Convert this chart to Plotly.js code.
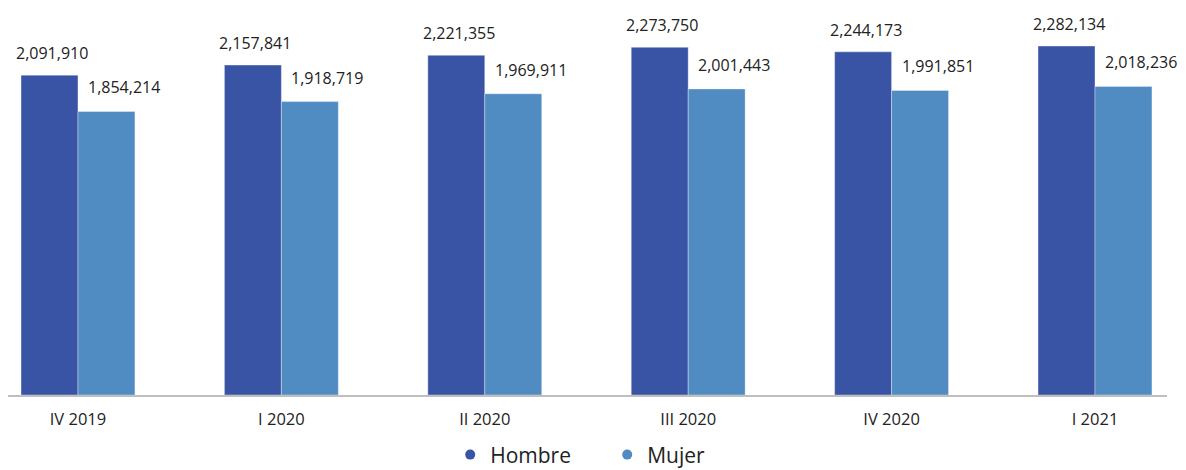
<!DOCTYPE html>
<html>
<head>
<meta charset="utf-8">
<script src="https://cdn.plot.ly/plotly-3.0.1.min.js"></script>
<style>
  html, body { margin: 0; padding: 0; background: #ffffff; }
  #chart { width: 1186px; height: 470px; }
</style>
</head>
<body>
<div id="chart"></div>
<script>
const categories = ["IV 2019", "I 2020", "II 2020", "III 2020", "IV 2020", "I 2021"];
const hombre = [2091910, 2157841, 2221355, 2273750, 2244173, 2282134];
const mujer = [1854214, 1918719, 1969911, 2001443, 1991851, 2018236];
const seriesNames = ["Hombre", "Mujer"];
const colors = ["#3A54A5", "#508BC2"];

const FONT = "Open Sans, Liberation Sans, sans-serif";
const fmt = v => v.toLocaleString("en-US");

const barTrace = (name, vals, color) => ({
  type: "bar",
  name: name,
  x: categories,
  y: vals,
  marker: { color: color, line: { color: "rgba(255,255,255,0.35)", width: 1 } },
  showlegend: false,
  hoverinfo: "x+y+name"
});

const legendTrace = (name, color) => ({
  type: "scatter",
  mode: "markers",
  name: name,
  x: [null],
  y: [null],
  marker: { color: color, size: 10, symbol: "circle" },
  showlegend: true
});

const annotations = [];
categories.forEach((c, i) => {
  annotations.push({
    x: c, y: hombre[i], xref: "x", yref: "y",
    text: fmt(hombre[i]), showarrow: false,
    xanchor: "center", yanchor: "bottom",
    xshift: -26, yshift: 9,
    font: { family: FONT, size: 16, color: "#222222" }
  });
  annotations.push({
    x: c, y: mujer[i], xref: "x", yref: "y",
    text: fmt(mujer[i]), showarrow: false,
    xanchor: "center", yanchor: "bottom",
    xshift: 46, yshift: 11,
    font: { family: FONT, size: 16, color: "#222222" }
  });
});

const data = [
  barTrace(seriesNames[0], hombre, colors[0]),
  barTrace(seriesNames[1], mujer, colors[1]),
  legendTrace(seriesNames[0], colors[0]),
  legendTrace(seriesNames[1], colors[1])
];

const layout = {
  width: 1186,
  height: 470,
  margin: { l: 8, r: 19, t: 20, b: 75, autoexpand: false },
  paper_bgcolor: "#ffffff",
  plot_bgcolor: "#ffffff",
  barmode: "group",
  bargap: 0.44,
  bargroupgap: 0,
  font: { family: FONT, size: 16, color: "#222222" },
  xaxis: {
    type: "category",
    range: [-0.344, 5.354],
    showline: true,
    linecolor: "#bfbfbf",
    linewidth: 1.5,
    ticks: "",
    showgrid: false,
    zeroline: false,
    automargin: false,
    tickfont: { family: FONT, size: 16.5, color: "#222222" },
    ticklabelstandoff: 9
  },
  yaxis: {
    range: [0, 2452500],
    visible: false,
    showgrid: false,
    zeroline: false
  },
  showlegend: true,
  legend: {
    orientation: "h",
    x: 0.517,
    xanchor: "center",
    xref: "paper",
    yref: "container",
    y: 0.032,
    yanchor: "middle",
    font: { family: FONT, size: 21, color: "#222222" },
    itemwidth: 30,
    entrywidth: 112,
    traceorder: "normal"
  },
  annotations: annotations
};

Plotly.newPlot("chart", data, layout, { displayModeBar: false, staticPlot: true });
</script>
</body>
</html>
